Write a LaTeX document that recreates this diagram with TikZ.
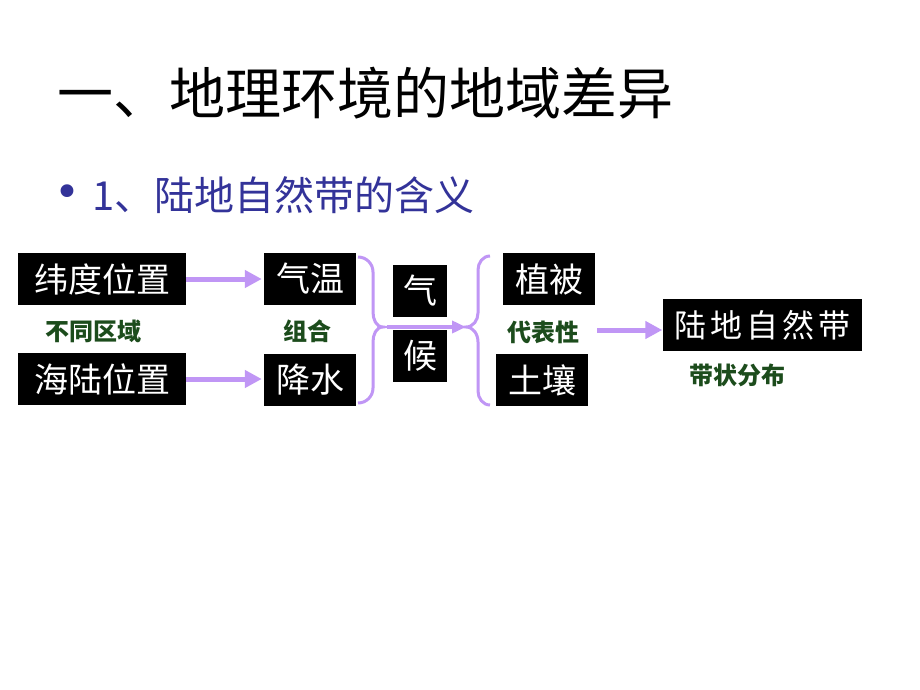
\documentclass[tikz,border=0pt]{standalone}
\usepackage{fontspec}
\newfontfamily\cjk{Noto Sans CJK SC}
\newfontfamily\dejavu{DejaVu Sans}
\usetikzlibrary{arrows.meta}
\definecolor{arrowpurple}{RGB}{192,150,245}
\definecolor{labelgreen}{RGB}{28,76,28}
\definecolor{subblue}{RGB}{51,51,153}
\tikzset{
  blackbox/.style={fill=black, text=white, inner sep=0pt, minimum height=52pt, font=\cjk\fontsize{34}{38}\selectfont},
  greenlabel/.style={text=labelgreen, inner sep=0pt, font=\cjk\bfseries\fontsize{24}{28}\selectfont},
  fatarrow/.style={draw=arrowpurple, line width=5pt, -{Triangle[length=17pt,width=17pt]}},
  thinarrow/.style={draw=arrowpurple, line width=4pt, -{Triangle[length=14pt,width=12pt]}},
  bracepath/.style={draw=arrowpurple, line width=3pt}
}
\begin{document}
\begin{tikzpicture}[x=1pt,y=-1pt]
\useasboundingbox[fill=white] (0,0) rectangle (920,690);
% titles
\node[anchor=west, inner sep=0pt, font=\cjk\fontsize{56}{60}\selectfont] (title) at (57,93) {一、地理环境的地域差异};
\node[anchor=center, inner sep=0pt, text=subblue, font=\dejavu\fontsize{44}{48}\selectfont] (bullet) at (67,196) {•};
\node[anchor=west, inner sep=0pt, text=subblue, font=\cjk\fontsize{40}{44}\selectfont] (sub) at (92,195) {1、陆地自然带的含义};
% boxes
\node[blackbox, minimum width=168pt] (wd) at (102,279) {纬度位置};
\node[blackbox, minimum width=168pt] (hl) at (102,379) {海陆位置};
\node[blackbox, minimum width=92pt] (qw) at (310,279) {气温};
\node[blackbox, minimum width=92pt] (js) at (310,380) {降水};
\node[blackbox, minimum width=54pt] (qi) at (420,291) {气};
\node[blackbox, minimum width=54pt] (hou) at (420,356) {候};
\node[blackbox, minimum width=92pt] (zb) at (549,279) {植被};
\node[blackbox, minimum width=92pt] (tr) at (542,380) {土壤};
\node[blackbox, minimum width=199pt, font=\cjk\fontsize{32}{36}\selectfont] (ld) at (762,325) {陆\hspace{4pt}地\hspace{4pt}自\hspace{4pt}然\hspace{4pt}带};
% labels
\node[greenlabel] (btqy) at (93,331) {不同区域};
\node[greenlabel] (zh) at (307,331) {组合};
\node[greenlabel] (dbx) at (543,332) {代表性};
\node[greenlabel] (dzfb) at (737,375) {带状分布};
% braces
\coordinate (rtip) at (383,327);
\coordinate (ltip) at (466,327);
\draw[bracepath] (358,257) to[out=0,in=90] (373,272) -- (373,312) to[out=-90,in=180] (rtip)
  to[out=180,in=90] (373,342) -- (373,388) to[out=-90,in=0] (358,403);
\draw[bracepath] (490,256) to[out=180,in=90] (478,270) -- (478,313) to[out=-90,in=0] (ltip)
  to[out=0,in=90] (478,342) -- (478,391) to[out=-90,in=180] (490,405);
% arrows
\draw[thinarrow] ([xshift=4pt]rtip) -- (ltip);
\draw[fatarrow] (wd.east) -- ([xshift=-2pt]qw.west);
\draw[fatarrow] (hl.east) -- ([xshift=-2pt]js.west |- hl.east);
\coordinate (a3s) at (597,330);
\draw[fatarrow] (a3s) -- (ld.west |- a3s);
\end{tikzpicture}
\end{document}
